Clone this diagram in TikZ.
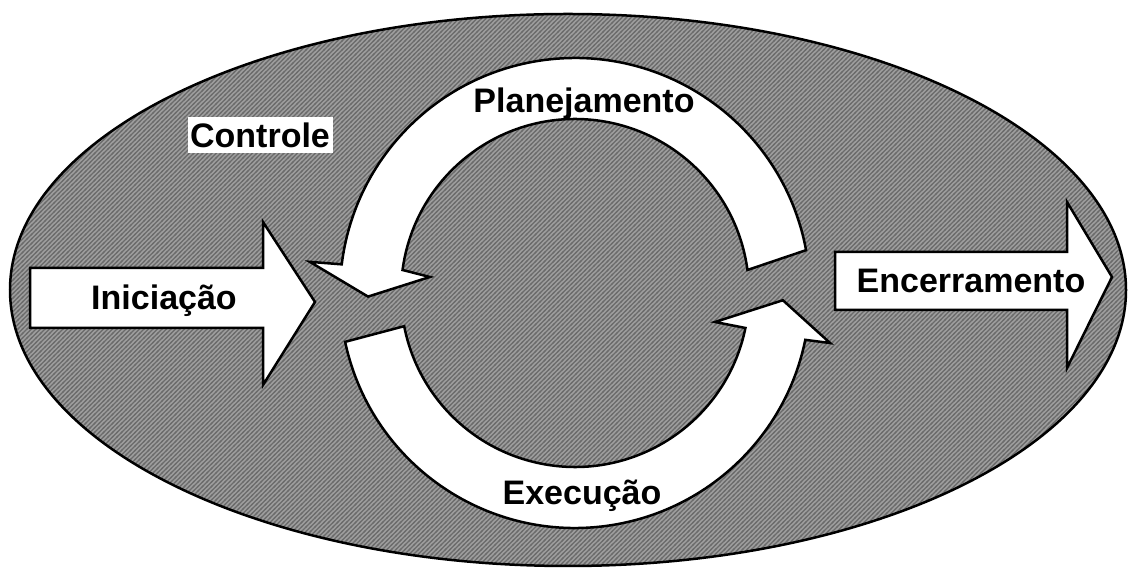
\documentclass[tikz,border=0pt]{standalone}
\usepackage{fontspec}
\setmainfont{Liberation Sans}
\usetikzlibrary{patterns.meta,calc}
\tikzdeclarepattern{
  name=diaghatch,
  type=uncolored,
  bounding box={(-1pt,-1pt) and (5.5pt,5.5pt)},
  tile size={(4.5pt,4.5pt)},
  code={
    \draw[line width=1.1pt] (-1pt,-1pt) -- (5.5pt,5.5pt);
  }
}
\begin{document}
\begin{tikzpicture}[x=1pt,y=1pt,
  lbl/.style={font=\fontsize{34}{40}\selectfont\bfseries, inner sep=0pt},
  shapeline/.style={draw=black, line width=2.5pt, line join=miter, fill=white}]
\useasboundingbox (0,0) rectangle (1128,572);
% hatched ellipse
\fill[black!38] (568,282) ellipse [x radius=558, y radius=276];
\fill[pattern=diaghatch, pattern color=black!58] (568,282) ellipse [x radius=558, y radius=276];
\draw[line width=2.5pt] (568,282) ellipse [x radius=558, y radius=276];
\coordinate (C) at (575,279);
% upper curved arrow (Planejamento)
\draw[shapeline] ($(C)+(10.5:235)$) arc[start angle=10.5, end angle=173, radius=235]
  -- ($(C)+(173.3:267)$) -- ($(C)+(181:207)$) -- ($(C)+(173.7:146)$)
  -- ($(C)+(172.4:174)$) arc[start angle=172.4, end angle=7.6, radius=174] -- cycle;
% lower curved arrow (Execucao)
\draw[shapeline] ($(C)+(192:235)$) arc[start angle=192, end angle=348.5, radius=235]
  -- ($(C)+(348.9:260)$) -- ($(C)+(358:208)$) -- ($(C)+(348.3:143)$)
  -- ($(C)+(348.4:174)$) arc[start angle=348.4, end angle=191, radius=174] -- cycle;
% straight arrows
\draw[shapeline] (30,244) -- (263,244) -- (263,187) -- (315,270) -- (263,350) -- (263,304) -- (30,304) -- cycle;
\draw[shapeline] (835,262) -- (1067,262) -- (1067,204) -- (1112,295) -- (1067,370) -- (1067,320) -- (835,320) -- cycle;
% labels
\node[lbl, anchor=base] (ini) at (164,262) {Iniciação};
\node[lbl, anchor=base] (enc) at (971,279) {Encerramento};
\node[lbl, anchor=base] (pla) at (584,459) {Planejamento};
\node[lbl, anchor=base] (exe) at (582,67) {Execução};
\node[lbl, fill=white, minimum width=145pt, minimum height=36pt] (ctl) at (260,437) {Controle};
\end{tikzpicture}
\end{document}
